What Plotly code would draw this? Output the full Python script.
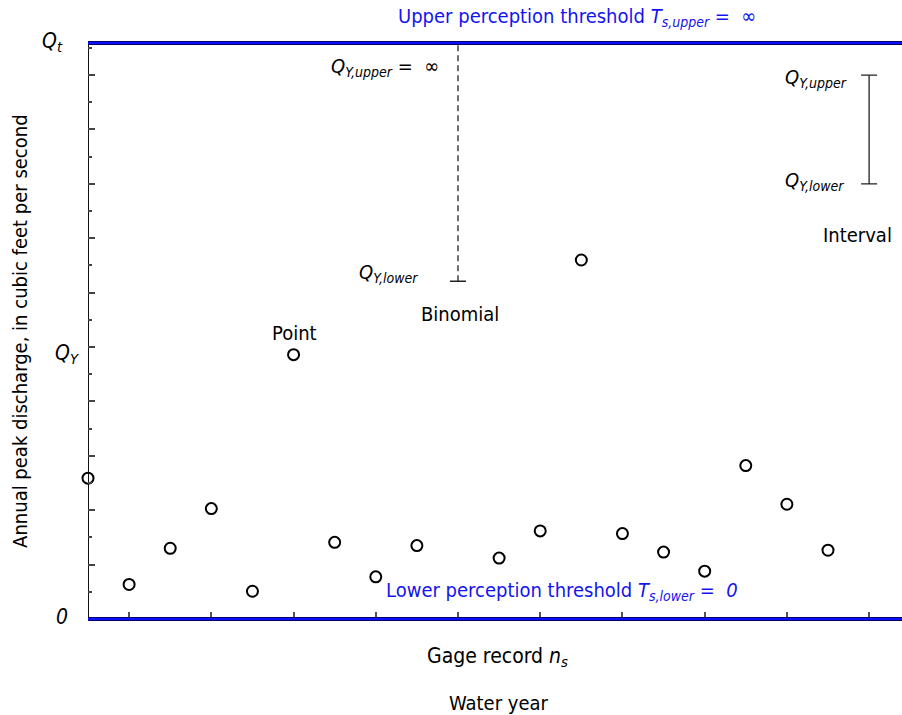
import plotly.graph_objects as go

# ---- data (in y-tick units; 0 = lower threshold, Q_T = upper threshold) ----
record_index = [0, 1, 2, 3, 4, 5, 6, 7, 8, 10, 11, 12, 13, 14, 15, 16, 17, 18]
peak_values = [5.18, 1.27, 2.6, 4.06, 1.02, 9.72, 2.82, 1.55, 2.7, 2.24, 3.24,
               13.2, 3.14, 2.46, 1.76, 5.64, 4.22, 2.53]
q_t = 21.18
binomial_index = 9
binomial_lower = 12.42
interval_index = 19
interval_lower = 16.0
interval_upper = 20.0
x_tick_vals = [1, 3, 5, 7, 9, 11, 13, 15, 17, 19]
x_max = 19.8

FONT = "DejaVu Sans Condensed, Liberation Sans Narrow, sans-serif"
BLUE = "#1414f0"
FS = 20

W, H = 902, 715
top_px, bot_px = 43, 619
t_m, b_m = 36, 89
plot_h = H - t_m - b_m
ppu = (bot_px - top_px) / q_t
y_lo = -(plot_h - (bot_px - t_m)) / ppu
y_hi = q_t + (top_px - t_m) / ppu

fig = go.Figure()

# observed peaks
fig.add_trace(go.Scatter(
    x=record_index, y=peak_values, mode="markers",
    marker=dict(symbol="circle-open", size=11, color="black", line=dict(width=2)),
    cliponaxis=False, hoverinfo="skip"))

# binomial censored observation: dashed line up to Q_t with cap at lower bound
fig.add_trace(go.Scatter(
    x=[binomial_index, binomial_index], y=[binomial_lower, q_t], mode="lines",
    line=dict(color="#222222", width=1.3, dash="6px,4px"), hoverinfo="skip"))
fig.add_trace(go.Scatter(
    x=[binomial_index], y=[binomial_lower], mode="markers",
    marker=dict(size=1, color="rgba(0,0,0,0)"),
    error_y=dict(type="data", array=[0], color="#222222", thickness=1.3, width=8),
    hoverinfo="skip"))

# interval observation
fig.add_trace(go.Scatter(
    x=[interval_index], y=[(interval_lower + interval_upper) / 2], mode="markers",
    marker=dict(size=1, color="rgba(0,0,0,0)"),
    error_y=dict(type="constant", value=(interval_upper - interval_lower) / 2,
                 color="#222222", thickness=1.3, width=8),
    hoverinfo="skip"))

# perception thresholds
for yv in (0, q_t):
    fig.add_shape(type="line", xref="paper", x0=0, x1=1, yref="y", y0=yv, y1=yv,
                  line=dict(color="#00006a", width=4), layer="above")
    fig.add_shape(type="line", xref="paper", x0=0, x1=1, yref="y", y0=yv, y1=yv,
                  line=dict(color="#1010ff", width=2), layer="above")
# y axis line
fig.add_shape(type="line", xref="x", x0=0, x1=0, yref="y", y0=0, y1=q_t,
              line=dict(color="#111111", width=2), layer="below")


def ann(x, y, text, xanchor="center", yanchor="middle", color="black", size=FS,
        angle=0):
    # positions given in data units, placed through paper coords so that labels
    # outside the axis ranges are still drawn
    px = x / x_max
    py = (y - y_lo) / (y_hi - y_lo)
    fig.add_annotation(x=px, y=py, xref="paper", yref="paper", text=text,
                       showarrow=False, xanchor=xanchor, yanchor=yanchor,
                       textangle=angle,
                       font=dict(family=FONT, size=size, color=color))


ann(7.5, 22.12, "Upper perception threshold <i>T</i><sub><i>s,upper</i></sub> =  ∞",
    xanchor="left", color=BLUE)
ann(7.2, 1.02, "Lower perception threshold <i>T</i><sub><i>s,lower</i></sub> =  <i>0</i>",
    xanchor="left", color=BLUE)
ann(-0.55, 21.2, "<i>Q</i><sub><i>t</i></sub>", xanchor="right", size=21)
ann(-0.44, 0.07, "<i>0</i>", xanchor="right", size=21)
ann(-0.17, 9.75, "<i>Q</i><sub><i>Y</i></sub>", xanchor="right", size=21)
ann(5.87, 20.3, "<i>Q</i><sub><i>Y,upper</i></sub> =  ∞", xanchor="left")
ann(6.55, 12.72, "<i>Q</i><sub><i>Y,lower</i></sub>", xanchor="left")
ann(9.05, 11.23, "Binomial")
ann(16.91, 19.9, "<i>Q</i><sub><i>Y,upper</i></sub>", xanchor="left")
ann(16.91, 16.1, "<i>Q</i><sub><i>Y,lower</i></sub>", xanchor="left")
ann(18.71, 14.12, "Interval")
ann(5.02, 10.51, "Point")
ann(8.2, -1.4, "Gage record <i>n</i><sub><i>s</i></sub>", xanchor="left", size=21)
ann(8.74, -3.09, "Water year", xanchor="left")
ann(-1.65, 10.6, "Annual peak discharge, in cubic feet per second", angle=-90)

fig.update_layout(
    width=W, height=H, margin=dict(l=88, r=0, t=t_m, b=b_m),
    paper_bgcolor="white", plot_bgcolor="white", showlegend=False,
    font=dict(family=FONT, size=FS, color="black"),
    xaxis=dict(range=[0, x_max], tickvals=x_tick_vals, ticks="inside", ticklen=7,
               tickwidth=1.5, tickcolor="#555555", showticklabels=False,
               showgrid=False, zeroline=False, showline=False,
               anchor="free", position=(H - b_m - bot_px) / plot_h),
    yaxis=dict(range=[y_lo, y_hi], tick0=0, dtick=2, ticks="inside", ticklen=7,
               tickwidth=1.5, tickcolor="#444444", showticklabels=False,
               showgrid=False, zeroline=False, showline=False,
               minor=dict(dtick=1, ticks="inside", ticklen=4, tickwidth=1.5,
                          tickcolor="#444444", showgrid=False)),
)

fig.write_html("out.html")
